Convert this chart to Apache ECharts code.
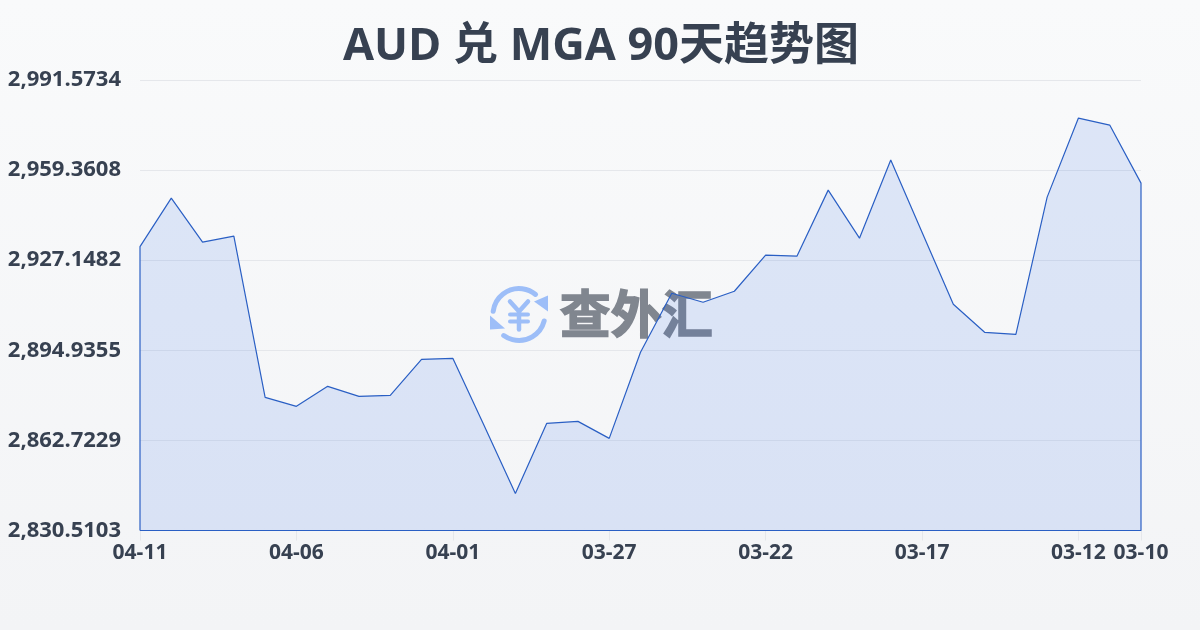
<!DOCTYPE html>
<html><head><meta charset="utf-8">
<style>html,body{margin:0;padding:0;width:1200px;height:630px;overflow:hidden;background:#f6f7f9}#c{width:1200px;height:630px}</style>
<script src="https://cdn.jsdelivr.net/npm/echarts@6/dist/echarts.min.js"></script>
</head><body><div id="c"></div>
<script>
const chartTitle = 'AUD 兑 MGA 90天趋势图';
const watermarkText = '查外汇';
const dates = ['04-11','04-10','04-09','04-08','04-07','04-06','04-05','04-04','04-03','04-02','04-01','03-31','03-30','03-29','03-28','03-27','03-26','03-25','03-24','03-23','03-22','03-21','03-20','03-19','03-18','03-17','03-16','03-15','03-14','03-13','03-12','03-11','03-10'];
const rates = [2931.98,2949.34,2933.59,2935.74,2878.11,2874.89,2882.05,2878.47,2878.83,2891.71,2892.07,2868.09,2843.75,2868.80,2869.52,2863.44,2894.22,2915.33,2912.11,2916.05,2928.93,2928.58,2952.20,2935.02,2962.94,2937.17,2911.40,2901.37,2900.66,2949.69,2977.97,2975.46,2954.70];
const yMin = 2830.5103;
const yMax = 2991.5734;
const yStep = 32.21262;

const last = dates.length - 1;
const outline = [[0, yMin]].concat(rates.map((v, i) => [i, v]), [[last, yMin], [0, yMin]]);
const shown = (i) => i % 5 === 0 || i === last;
const fmt = (v) => v.toLocaleString('en-US', {minimumFractionDigits: 4, maximumFractionDigits: 4});
const font = '"Open Sans","Noto Sans CJK SC",sans-serif';
const ink = '#374151';
const iconBlue = '#9dbef8';

const chart = echarts.init(document.getElementById('c'), null, {renderer: 'canvas'});
chart.setOption({
  animation: false,
  backgroundColor: {type: 'linear', x: 0, y: 0, x2: 0, y2: 1, colorStops: [{offset: 0, color: '#f9fafb'}, {offset: 1, color: '#f3f4f6'}]},
  title: {text: chartTitle, left: 338, top: 20, textStyle: {fontFamily: font, fontSize: 45, fontWeight: 'bold', color: ink}},
  grid: {left: 140, right: 59, top: 80, bottom: 99.5},
  graphic: [
    {type: 'group', left: 490, top: 286, z: 0, silent: true, children: [
      {type: 'arc', shape: {cx: 30, cy: 29, r: 26, startAngle: Math.PI * 1.04, endAngle: Math.PI * 1.72, clockwise: true}, style: {fill: 'none', stroke: iconBlue, lineWidth: 5, lineCap: 'round'}},
      {type: 'polygon', shape: {points: [[59, 10], [59, 26], [45, 16]]}, style: {fill: iconBlue}},
      {type: 'arc', shape: {cx: 30, cy: 29, r: 26, startAngle: Math.PI * 0.08, endAngle: Math.PI * 0.7, clockwise: true}, style: {fill: 'none', stroke: iconBlue, lineWidth: 5, lineCap: 'round'}},
      {type: 'polygon', shape: {points: [[1, 30], [1, 44], [16, 43]]}, style: {fill: iconBlue}},
      {type: 'polyline', shape: {points: [[21, 16], [30, 26], [39, 16]]}, style: {fill: 'none', stroke: iconBlue, lineWidth: 4.5, lineCap: 'round'}},
      {type: 'line', shape: {x1: 21, y1: 29, x2: 39, y2: 29}, style: {stroke: iconBlue, lineWidth: 4, lineCap: 'round'}},
      {type: 'line', shape: {x1: 21, y1: 36, x2: 39, y2: 36}, style: {stroke: iconBlue, lineWidth: 4, lineCap: 'round'}},
      {type: 'line', shape: {x1: 30, y1: 27, x2: 30, y2: 44}, style: {stroke: iconBlue, lineWidth: 4.5, lineCap: 'round'}}
    ]},
    {type: 'text', left: 559, top: 287, z: 0, silent: true, style: {text: watermarkText, fill: '#80868f', stroke: '#80868f', lineWidth: 1.6, font: 'bold 51px "Noto Sans CJK SC"'}}
  ],
  xAxis: {
    type: 'category', data: dates, boundaryGap: false,
    axisLine: {show: false},
    axisTick: {show: true, length: 10, interval: (i) => shown(i), lineStyle: {color: '#e5e7eb'}},
    axisLabel: {interval: (i) => shown(i), showMinLabel: true, showMaxLabel: true, hideOverlap: false, margin: 12, fontFamily: font, fontSize: 21, fontWeight: 'bold', color: ink},
    splitLine: {show: false}
  },
  yAxis: {
    type: 'value', min: yMin, max: yMax, interval: yStep,
    axisLine: {show: false}, axisTick: {show: false},
    axisLabel: {formatter: fmt, margin: 19, fontFamily: font, fontSize: 22, fontWeight: 'bold', color: ink},
    splitLine: {lineStyle: {color: '#e5e7eb', width: 1}}
  },
  series: [{
    type: 'line', data: outline, showSymbol: false, symbol: 'none', smooth: false, z: 5,
    lineStyle: {color: '#2a5fc4', width: 1.2},
    areaStyle: {color: 'rgba(37,99,235,0.13)', opacity: 1}
  }]
});
</script></body></html>
